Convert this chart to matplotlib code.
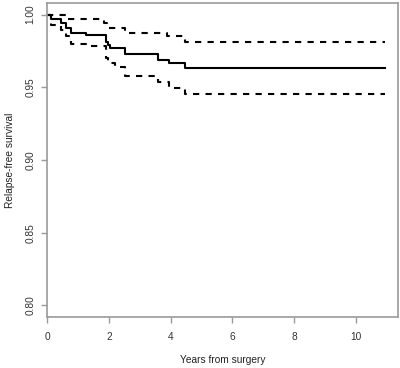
import matplotlib
matplotlib.use("Agg")
import matplotlib.pyplot as plt

# Kaplan-Meier step data (time in years, survival)
km_times = [0, 0.14, 0.46, 0.62, 0.78, 1.27, 1.90, 1.99, 2.05, 2.51, 3.60, 3.95, 4.46, 10.94]
km_surv = [1.000, 0.9972, 0.9942, 0.9908, 0.9877, 0.9860, 0.9815, 0.9790, 0.9770, 0.9727, 0.9690, 0.9665, 0.9630, 0.9630]

upper_times = [0, 0.65, 1.86, 1.95, 2.51, 3.87, 4.46, 10.94]
upper_surv = [1.000, 0.9970, 0.9942, 0.9910, 0.9873, 0.9850, 0.9810, 0.9810]

lower_times = [0, 0.12, 0.46, 0.62, 0.78, 1.27, 1.90, 1.99, 2.20, 2.51, 3.60, 3.95, 4.46, 10.94]
lower_surv = [1.000, 0.9930, 0.9896, 0.9850, 0.9800, 0.9787, 0.9700, 0.9665, 0.9640, 0.9576, 0.9537, 0.9498, 0.9451, 0.9451]

x_ticks = [0, 2, 4, 6, 8, 10]
y_ticks = [0.80, 0.85, 0.90, 0.95, 1.00]
x_label = "Years from surgery"
y_label = "Relapse-free survival"

plt.rcParams['font.family'] = ['Liberation Sans', 'DejaVu Sans']

fig = plt.figure(figsize=(4.0, 3.68), dpi=100)
ax = fig.add_axes([0.1175, 0.1386, 0.8775, 0.8532])

ax.step(km_times, km_surv, where='post', color='black', lw=1.5)
ax.step(upper_times, upper_surv, where='post', color='black', lw=1.5, linestyle=(0, (3, 3)))
ax.step(lower_times, lower_surv, where='post', color='black', lw=1.5, linestyle=(0, (3, 3)))

ax.set_xlim(0, 11.36)
ax.set_ylim(0.792, 1.008)
ax.set_xticks(x_ticks)
ax.set_xticklabels([str(t) for t in x_ticks])
ax.set_yticks(y_ticks)
ax.set_yticklabels([f"{t:.2f}" for t in y_ticks], rotation=90, va='center')

for s in ax.spines.values():
    s.set_color('#9a9a9a')
    s.set_linewidth(1.2)
ax.tick_params(axis='both', colors='#9a9a9a', labelcolor='#333333', labelsize=7.3, length=4.5, width=1)
ax.tick_params(axis='x', pad=6)
ax.tick_params(axis='y', pad=4)
ax.set_xlabel(x_label, fontsize=7.3, color='#222222', va='center')
ax.set_ylabel(y_label, fontsize=7.3, color='#222222', va='center')
ax.xaxis.set_label_coords(0.5, -0.137)
ax.yaxis.set_label_coords(-0.105, 0.5)

fig.savefig("out.png", dpi=100)
